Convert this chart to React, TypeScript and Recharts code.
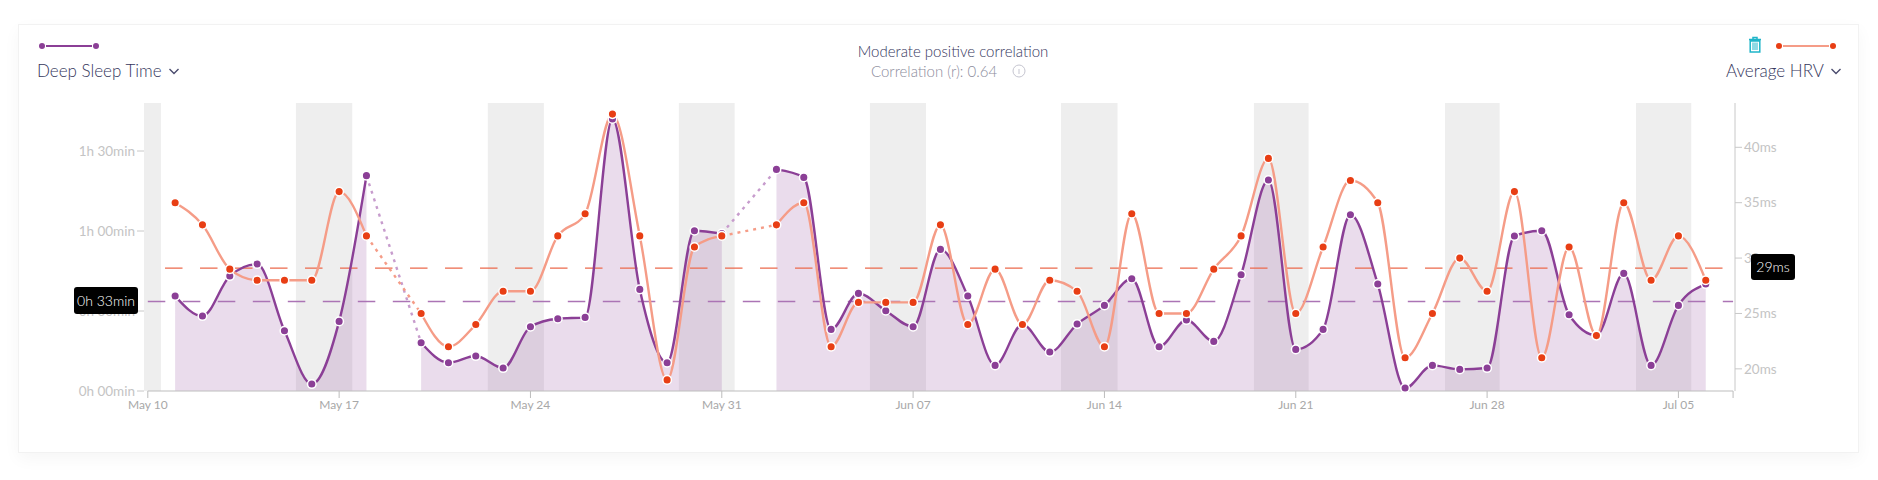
import { ComposedChart, Area, Line, XAxis, YAxis, ReferenceArea, ReferenceLine } from 'recharts';

const FONT = 'Lato, "Noto Sans", sans-serif'
const PURPLE = '#8b3f96'
const RED = '#e83e14'
const SALMON = '#f59c87'

// one entry per day, May 11 is day 1. null = no reading that day
const dates = [
    'May 11', 'May 12', 'May 13', 'May 14', 'May 15', 'May 16', 'May 17', 'May 18', 'May 19', 'May 20',
    'May 21', 'May 22', 'May 23', 'May 24', 'May 25', 'May 26', 'May 27', 'May 28', 'May 29', 'May 30',
    'May 31', 'Jun 01', 'Jun 02', 'Jun 03', 'Jun 04', 'Jun 05', 'Jun 06', 'Jun 07', 'Jun 08', 'Jun 09',
    'Jun 10', 'Jun 11', 'Jun 12', 'Jun 13', 'Jun 14', 'Jun 15', 'Jun 16', 'Jun 17', 'Jun 18', 'Jun 19',
    'Jun 20', 'Jun 21', 'Jun 22', 'Jun 23', 'Jun 24', 'Jun 25', 'Jun 26', 'Jun 27', 'Jun 28', 'Jun 29',
    'Jun 30', 'Jul 01', 'Jul 02', 'Jul 03', 'Jul 04', 'Jul 05', 'Jul 06',
]
const deepSleep = [
    35.6, 28.1, 43.1, 47.6, 22.6, 2.6, 26.1, 80.75, null, 18.1,
    10.6, 13.1, 8.6, 24.1, 27.1, 27.6, 102, 38.1, 10.6, 60.1,
    59, null, 83.1, 80.1, 23.1, 36.6, 30.1, 24.1, 53.1, 35.6,
    9.6, 25, 14.6, 25.1, 32.1, 42.1, 16.6, 26.6, 18.6, 43.6,
    79.1, 15.6, 23.1, 66.1, 40.1, 1.1, 9.6, 8.1, 8.6, 58.1,
    60.1, 28.6, 20.9, 44.1, 9.6, 32.1, 40.1,
]
const avgHrv = [
    35, 33, 29, 28, 28, 28, 36, 32, null, 25,
    22, 24, 27, 27, 32, 34, 43, 32, 19, 31,
    32, null, 33, 35, 22, 26, 26, 26, 33, 24,
    29, 24, 28, 27, 22, 34, 25, 25, 29, 32,
    39, 25, 31, 37, 35, 21, 25, 30, 27, 36,
    21, 31, 23, 35, 28, 32, 28,
]
const deepAverage = 33.6
const hrvAverage = 29.1

const tickDays = [0, 7, 14, 21, 28, 35, 42, 49, 56, 58]
const tickLabels = ['May 10', 'May 17', 'May 24', 'May 31', 'Jun 07', 'Jun 14', 'Jun 21', 'Jun 28', 'Jul 05', '']
const deepTicks = [0, 30, 60, 90]
const deepTickLabels = ['0h 00min', '0h 30min', '1h 00min', '1h 30min']
const hrvTicks = [20, 25, 30, 35, 40]

// weekend bands, in days from May 10
const bandStarts = [-0.139, 5.42, 12.44, 19.43, 26.42, 33.41, 40.47, 47.46, 54.45]
const bandEnds = [0.48, 7.48, 14.49, 21.47, 28.47, 35.48, 42.47, 49.46, 56.47]

const gapIndexes = dates.map((_, i) => i).filter(i => deepSleep[i] === null)

const chartData = dates.map((date, i) => {
    const row: any = { day: i + 1, date, deep: deepSleep[i], hrv: avgHrv[i] }
    gapIndexes.forEach((gap, g) => {
        if (i === gap - 1 || i === gap + 1) {
            row['deepGap' + g] = deepSleep[i]
            row['hrvGap' + g] = avgHrv[i]
        }
    })
    return row
})

const LegendLine = ({ left, dot, line }: { left: number, dot: string, line: string }) => (
    <svg style={{ position: 'absolute', left, top: 40 }} width={62} height={12}>
        <line x1={8} x2={54} y1={6} y2={6} stroke={line} strokeWidth={2.2} />
        <circle cx={4} cy={6} r={3} fill={dot} />
        <circle cx={58} cy={6} r={3} fill={dot} />
    </svg>
)

const Chevron = ({ left }: { left: number }) => (
    <svg style={{ position: 'absolute', left, top: 67 }} width={12} height={9}>
        <path d="M1.5 2 L6 6.5 L10.5 2" fill="none" stroke="#4b4c6e" strokeWidth={1.4} />
    </svg>
)

const label = (style: any, text: string) => (
    <div style={{ position: 'absolute', fontFamily: FONT, whiteSpace: 'nowrap', ...style }}>{text}</div>
)

const App = () => {
    return (
        <div style={{ position: 'absolute', left: 0, top: 0, width: 1878, height: 480, background: '#fff', overflow: 'hidden' }}>
            <div style={{ position: 'absolute', left: 18, top: 24, width: 1841, height: 429, background: '#fff', border: '1px solid #f2f2f2', boxShadow: '0 6px 16px rgba(0,0,0,0.04)', boxSizing: 'border-box' }} />

            <div style={{ position: 'absolute', left: 0, top: 0 }}>
                <ComposedChart
                    width={1878}
                    height={480}
                    data={chartData}
                    margin={{ top: 103, right: 83, left: 44, bottom: 59 }}
                >
                    {bandStarts.map((start, i) => (
                        <ReferenceArea key={i} yAxisId="deep" x1={start} x2={bandEnds[i]} fill="#eeeeee" fillOpacity={1} stroke="none" />
                    ))}
                    <XAxis
                        dataKey="day"
                        type="number"
                        domain={[-0.139, 58.07]}
                        ticks={tickDays}
                        interval={0}
                        height={30}
                        axisLine={false}
                        tickSize={7}
                        tickLine={{ stroke: '#bdbdbd' }}
                        tickFormatter={(v: number) => tickLabels[tickDays.indexOf(v)]}
                        tick={{ fontSize: 12, fill: '#a8a8a8', fontFamily: FONT }}
                    />
                    <YAxis
                        yAxisId="deep"
                        domain={[0, 108]}
                        ticks={deepTicks}
                        width={100}
                        axisLine={false}
                        tickSize={7}
                        tickLine={{ stroke: '#c8c8c8' }}
                        tickFormatter={(v: number) => deepTickLabels[deepTicks.indexOf(v)]}
                        tick={{ fontSize: 13.5, fill: '#c4c4c4', fontFamily: FONT }}
                    />
                    <YAxis
                        yAxisId="hrv"
                        orientation="right"
                        domain={[18, 44]}
                        ticks={hrvTicks}
                        width={60}
                        axisLine={{ stroke: '#c8c8c8' }}
                        tickSize={7}
                        tickLine={{ stroke: '#c8c8c8' }}
                        tickFormatter={(v: number) => v + 'ms'}
                        tick={{ fontSize: 13.5, fill: '#c4c4c4', fontFamily: FONT }}
                    />
                    <ReferenceLine yAxisId="deep" segment={[{ x: 0, y: 0 }, { x: 58, y: 0 }]} stroke="#bdbdbd" strokeWidth={1.2} />
                    <Area yAxisId="deep" dataKey="deep" type="monotone" fill={PURPLE} fillOpacity={0.18} stroke="none" dot={false} activeDot={false} isAnimationActive={false} />
                    <ReferenceLine yAxisId="deep" segment={[{ x: 0, y: deepAverage }, { x: 58, y: deepAverage }]} stroke="#ab74b5" strokeWidth={1.5} strokeDasharray="17.5 17.5" />
                    <ReferenceLine yAxisId="hrv" segment={[{ x: 0.63, y: hrvAverage }, { x: 58, y: hrvAverage }]} stroke="#ec6a4c" strokeWidth={1.3} strokeDasharray="17.5 17.5" />
                    {gapIndexes.map((_, g) => (
                        <Line key={'d' + g} yAxisId="deep" dataKey={'deepGap' + g} connectNulls type="linear" stroke="#c79ccd" strokeWidth={2.4} strokeDasharray="3 5" dot={false} activeDot={false} isAnimationActive={false} />
                    ))}
                    {gapIndexes.map((_, g) => (
                        <Line key={'h' + g} yAxisId="hrv" dataKey={'hrvGap' + g} connectNulls type="linear" stroke={SALMON} strokeWidth={2.4} strokeDasharray="3 5" dot={false} activeDot={false} isAnimationActive={false} />
                    ))}
                    <Line yAxisId="deep" dataKey="deep" type="monotone" stroke={PURPLE} strokeWidth={2.4} dot={{ r: 4.3, fill: PURPLE, stroke: '#fff', strokeWidth: 1.5 }} activeDot={false} isAnimationActive={false} />
                    <Line yAxisId="hrv" dataKey="hrv" type="monotone" stroke={SALMON} strokeWidth={2.4} dot={{ r: 4.3, fill: RED, stroke: '#fff', strokeWidth: 1.5 }} activeDot={false} isAnimationActive={false} />
                </ComposedChart>
            </div>

            <LegendLine left={38} dot={PURPLE} line={PURPLE} />
            {label({ left: 37, top: 60, fontSize: 17, fontWeight: 300, color: '#35365c' }, 'Deep Sleep Time')}
            <Chevron left={168} />

            {label({ left: 753, width: 400, textAlign: 'center', top: 42, fontSize: 15, fontWeight: 300, color: '#35365c' }, 'Moderate positive correlation')}
            {label({ left: 871, top: 62, fontSize: 15, fontWeight: 300, color: '#8c8c9c' }, 'Correlation (r): 0.64')}
            <svg style={{ position: 'absolute', left: 1011, top: 63 }} width={16} height={16}>
                <circle cx={8} cy={8} r={6} fill="none" stroke="#c5c5d0" strokeWidth={1} />
                <line x1={8} x2={8} y1={6} y2={11} stroke="#c5c5d0" strokeWidth={1} />
            </svg>

            <svg style={{ position: 'absolute', left: 1748, top: 36 }} width={14} height={17}>
                <path d="M1 3.5 H13 M5 3.5 V1.5 H9 V3.5 M2.2 5 V16 H11.8 V5 Z" fill="none" stroke="#1fb5c9" strokeWidth={1.5} />
                <path d="M5 6.5 V14 M7 6.5 V14 M9 6.5 V14" stroke="#1fb5c9" strokeWidth={1} />
            </svg>
            <LegendLine left={1775} dot={RED} line={SALMON} />
            {label({ left: 1726, top: 60, fontSize: 17, fontWeight: 300, color: '#35365c' }, 'Average HRV')}
            <Chevron left={1830} />

            {label({ left: 74, top: 287, width: 64, height: 27, lineHeight: '27px', textAlign: 'center', background: '#000', color: '#fff', fontSize: 14, fontWeight: 300, borderRadius: 3 }, '0h 33min')}
            {label({ left: 1751, top: 254, width: 44, height: 26, lineHeight: '26px', textAlign: 'center', background: '#000', color: '#fff', fontSize: 14, fontWeight: 300, borderRadius: 3 }, '29ms')}
        </div>
    )
}

export default App
